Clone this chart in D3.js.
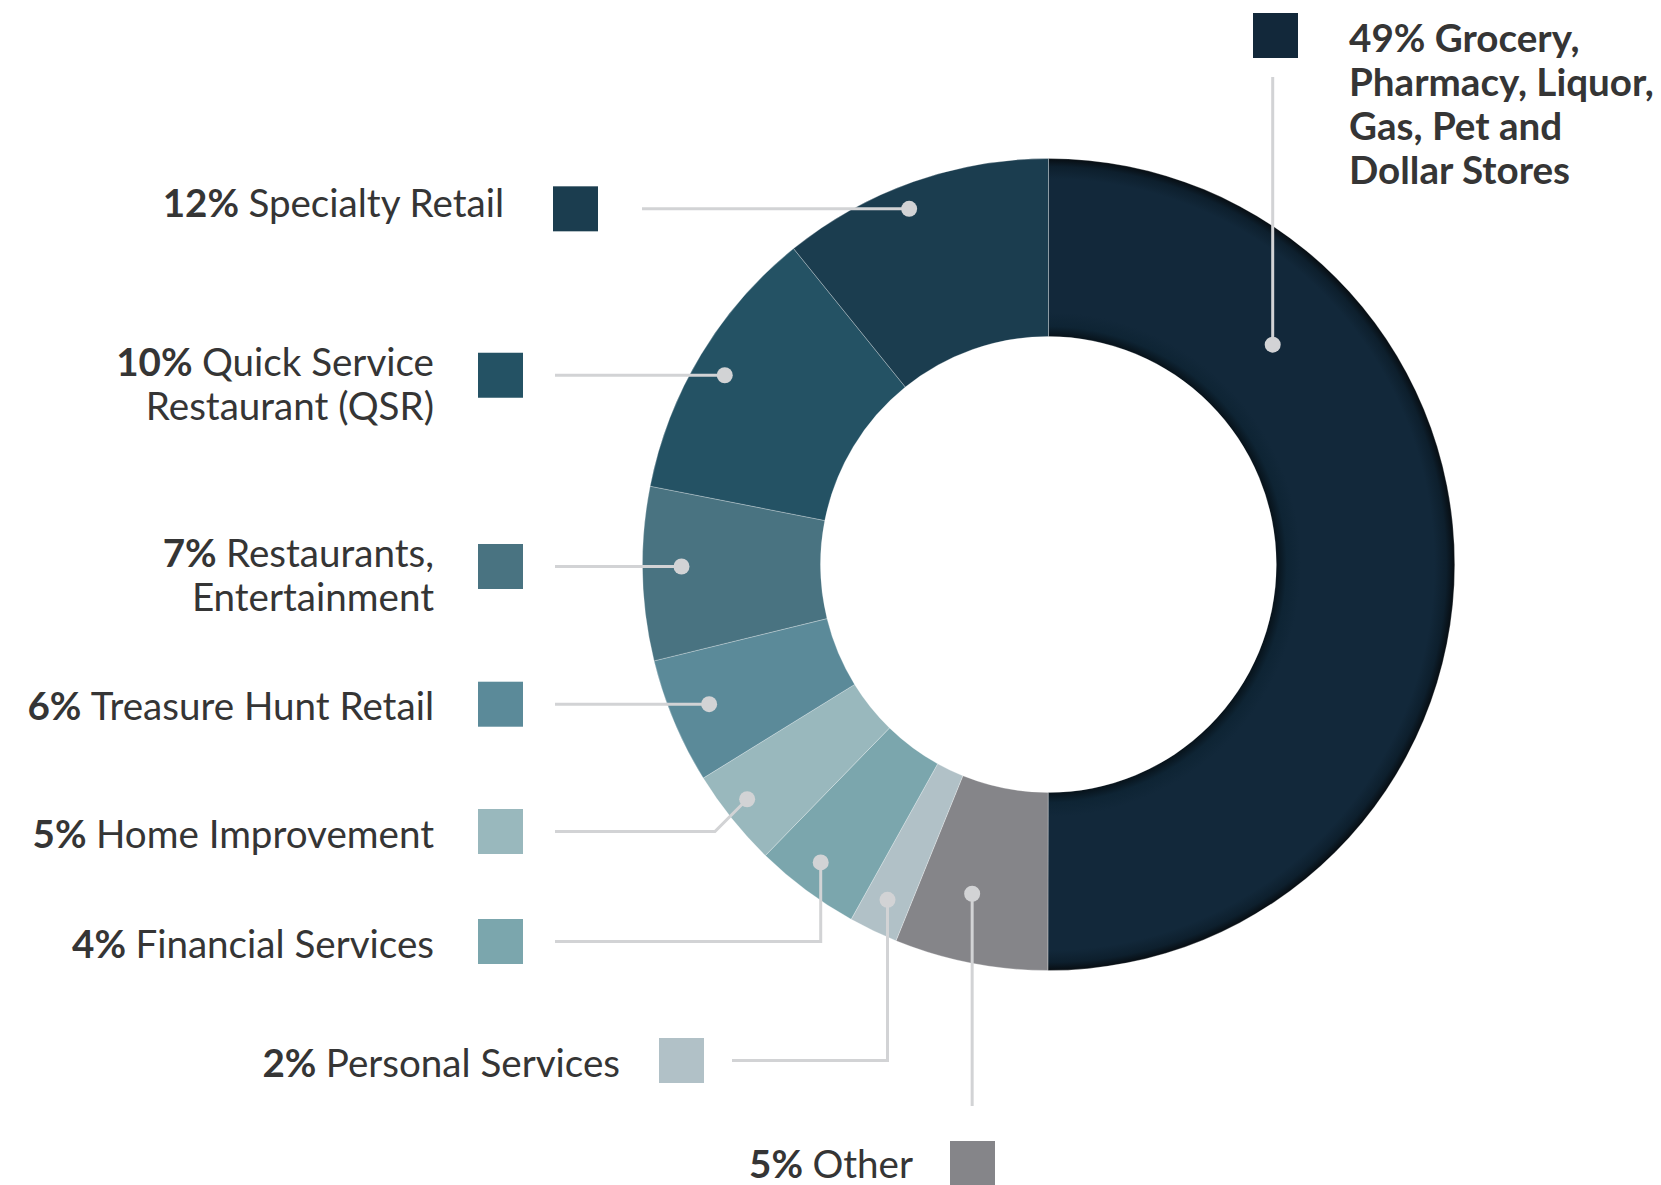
<!DOCTYPE html>
<html>
<head>
<meta charset="utf-8">
<script src="https://cdn.jsdelivr.net/npm/d3@7"></script>
<style>
  html, body { margin: 0; padding: 0; background: #fff; }
  svg { display: block; font-family: Lato, "Open Sans", sans-serif; }
</style>
</head>
<body>
<div id="chart"></div>
<script>
// --- data (clockwise from 12 o'clock) ---
const categories = [
  'Grocery, Pharmacy, Liquor, Gas, Pet and Dollar Stores',
  'Other',
  'Personal Services',
  'Financial Services',
  'Home Improvement',
  'Treasure Hunt Retail',
  'Restaurants, Entertainment',
  'Quick Service Restaurant (QSR)',
  'Specialty Retail'
];
const labelPercents = [49, 5, 2, 4, 5, 6, 7, 10, 12];
// share of the ring each slice actually takes up in the picture
const shares = [50, 6.1, 1.95, 4.2, 3.9, 5.0, 6.9, 11.1, 10.8];
// word index where a new label line starts
const lineBreaks = [[1, 3, 6], [], [], [], [], [], [1], [2], []];

const colors = ['#12283a', '#858589', '#b1c1c7', '#7ba6ad', '#99b8bd', '#5b8a99', '#497381', '#245264', '#1b3d4f'];

// --- layout ---
const W = 1661, H = 1185;
const cx = 1048.5, cy = 564.5, outerR = 406, innerR = 228;
const sw = 45;
const lineH = 44;
const fontSize = 38.6;

// t = where along the slice the dot sits, r = dot radius
// sx/sy = swatch top-left (sy null -> follows the dot), gap = leader gap, tGap = text gap
const leaders = [
  {t: 0.253, r: 314, kind: 'up',    sx: 1253, sy: 13,   gap: 19},
  {t: 0.59,  r: 338, kind: 'down',  sx: 950,  sy: 1141, gap: 35, tGap: 37, dy: -2},
  {t: 0.51,  r: 372, kind: 'elbow', sx: 659,  sy: 1038, gap: 28, tGap: 39},
  {t: 0.55,  r: 375, kind: 'elbow', sx: 478,  sy: 919,  gap: 32, tGap: 44},
  {t: 0.56,  r: 382, kind: 'diag',  sx: 478,  sy: 809,  gap: 32, tGap: 44},
  {t: 0.52,  r: 367, kind: 'flat',  sx: 478,  sy: null, gap: 32, tGap: 44},
  {t: 0.54,  r: 367, kind: 'flat',  sx: 478,  sy: null, gap: 32, tGap: 44},
  {t: 0.48,  r: 375, kind: 'flat',  sx: 478,  sy: null, gap: 32, tGap: 44},
  {t: 0.45,  r: 382, kind: 'flat',  sx: 553,  sy: null, gap: 44, tGap: 49, dy: -8}
];

const svg = d3.select('#chart').append('svg').attr('width', W).attr('height', H);

// shading on the big grocery slice
const grad = svg.append('defs').append('radialGradient')
  .attr('id', 'groceryShade')
  .attr('gradientUnits', 'userSpaceOnUse')
  .attr('cx', 0).attr('cy', 0).attr('r', outerR);
const k = innerR / outerR;
[[k, '#07121a'], [k + 0.025, '#0e2434'], [k + 0.06, '#12283a'],
 [0.95, '#12283a'], [0.98, '#0d1f2d'], [1, '#070d12']].forEach(s => {
  grad.append('stop').attr('offset', s[0]).attr('stop-color', s[1]);
});

const pie = d3.pie().sort(null).value(d => d);
const arcs = pie(shares);
const arc = d3.arc().innerRadius(innerR).outerRadius(outerR);

const ring = svg.append('g').attr('transform', `translate(${cx},${cy})`);
ring.selectAll('path.slice').data(arcs).join('path')
  .attr('class', 'slice')
  .attr('d', arc)
  .attr('fill', (d, i) => i === 0 ? 'url(#groceryShade)' : colors[i])
  .attr('stroke', 'rgba(255,255,255,0.35)')
  .attr('stroke-width', 0.8);

function pointAt(a, r) {
  return [cx + r * Math.sin(a), cy - r * Math.cos(a)];
}

const dots = arcs.map((d, i) => pointAt(d.startAngle + (d.endAngle - d.startAngle) * leaders[i].t, leaders[i].r));

// swatch positions (flat leaders follow the dot height)
const swatches = leaders.map((l, i) => [l.sx, l.sy === null ? dots[i][1] - sw / 2 : l.sy]);

const line = d3.line();
const leaderPts = leaders.map((l, i) => {
  const [dx, dy] = dots[i];
  const [sx, sy] = swatches[i];
  const my = sy + sw / 2;
  const x0 = sx + sw + l.gap;
  if (l.kind === 'up') return [[dx, dy], [dx, sy + sw + l.gap]];
  if (l.kind === 'down') return [[dx, dy], [dx, sy - l.gap]];
  if (l.kind === 'flat') return [[x0, dy], [dx, dy]];
  if (l.kind === 'elbow') return [[x0, my], [dx, my], [dx, dy]];
  return [[x0, my], [dx - (my - dy), my], [dx, dy]];
});

svg.append('g').selectAll('path').data(leaderPts).join('path')
  .attr('d', line)
  .attr('fill', 'none')
  .attr('stroke', '#d2d3d5')
  .attr('stroke-width', 3);

svg.append('g').selectAll('circle').data(dots).join('circle')
  .attr('cx', d => d[0]).attr('cy', d => d[1]).attr('r', 8)
  .attr('fill', '#d2d3d5');

svg.append('g').selectAll('rect').data(swatches).join('rect')
  .attr('x', d => d[0]).attr('y', d => d[1])
  .attr('width', sw).attr('height', sw)
  .attr('fill', (d, i) => colors[i]);

// labels
categories.forEach((name, i) => {
  const words = name.split(' ');
  const starts = [0].concat(lineBreaks[i]);
  const lines = starts.map((s, j) => words.slice(s, starts[j + 1]).join(' '));
  const [sx, sy] = swatches[i];
  const mid = sy + sw / 2;
  const l = leaders[i];
  const onRight = i === 0;
  let x, y0;
  if (onRight) {
    x = sx + sw + 51;
    y0 = mid + 16;
  } else {
    x = sx - l.tGap;
    y0 = lines.length > 1 ? mid + 1 : mid + 16 + (l.dy || 0);
  }
  const t = svg.append('text')
    .attr('x', x).attr('y', y0)
    .attr('text-anchor', onRight ? 'start' : 'end')
    .attr('font-size', fontSize)
    .attr('fill', '#353535');
  lines.forEach((txt, j) => {
    const row = t.append('tspan').attr('x', x).attr('dy', j === 0 ? 0 : lineH);
    if (j === 0) {
      row.append('tspan').attr('font-weight', 700).text(labelPercents[i] + '% ');
    }
    row.append('tspan').attr('font-weight', onRight ? 700 : 400).text(txt);
  });
});
</script>
</body>
</html>
